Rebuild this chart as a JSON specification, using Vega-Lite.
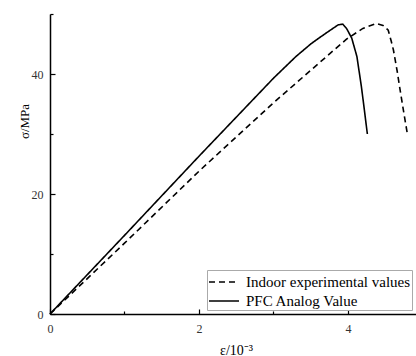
{
  "$schema": "https://vega.github.io/schema/vega-lite/v6.json",
  "width": 366,
  "height": 300,
  "autosize": {"type": "none"},
  "padding": {"left": 50, "top": 14, "right": 0, "bottom": 42},
  "background": "white",
  "config": {
    "view": {"stroke": null},
    "font": "Liberation Serif",
    "legend": {"labelFont": "Liberation Serif", "labelFontSize": 15},
    "axis": {
      "grid": false,
      "labelFlush": false,
      "domainColor": "black",
      "domainWidth": 1.5,
      "tickColor": "black",
      "tickWidth": 1.2,
      "labelFont": "Liberation Serif",
      "labelFontSize": 12,
      "labelColor": "#333333",
      "titleFont": "Liberation Serif",
      "titleFontWeight": "normal",
      "titleColor": "black"
    }
  },
  "data": {
    "values": [
      {"s": "Indoor experimental values", "e": 0, "sigma": 0},
      {"s": "Indoor experimental values", "e": 1.0, "sigma": 11.8},
      {"s": "Indoor experimental values", "e": 2.0, "sigma": 23.8},
      {"s": "Indoor experimental values", "e": 3.0, "sigma": 35.2},
      {"s": "Indoor experimental values", "e": 3.6, "sigma": 41.7},
      {"s": "Indoor experimental values", "e": 3.98, "sigma": 45.8},
      {"s": "Indoor experimental values", "e": 4.2, "sigma": 47.6},
      {"s": "Indoor experimental values", "e": 4.38, "sigma": 48.4},
      {"s": "Indoor experimental values", "e": 4.47, "sigma": 48.1},
      {"s": "Indoor experimental values", "e": 4.54, "sigma": 47.3},
      {"s": "Indoor experimental values", "e": 4.58, "sigma": 45.5},
      {"s": "Indoor experimental values", "e": 4.61, "sigma": 44.0},
      {"s": "Indoor experimental values", "e": 4.66, "sigma": 40.5},
      {"s": "Indoor experimental values", "e": 4.7, "sigma": 37.3},
      {"s": "Indoor experimental values", "e": 4.75, "sigma": 33.5},
      {"s": "Indoor experimental values", "e": 4.8, "sigma": 29.8},
      {"s": "PFC Analog Value", "e": 0, "sigma": 0},
      {"s": "PFC Analog Value", "e": 1.0, "sigma": 13.1},
      {"s": "PFC Analog Value", "e": 2.0, "sigma": 26.3},
      {"s": "PFC Analog Value", "e": 2.5, "sigma": 32.8},
      {"s": "PFC Analog Value", "e": 3.0, "sigma": 39.3},
      {"s": "PFC Analog Value", "e": 3.3, "sigma": 42.9},
      {"s": "PFC Analog Value", "e": 3.5, "sigma": 45.0},
      {"s": "PFC Analog Value", "e": 3.6, "sigma": 45.9},
      {"s": "PFC Analog Value", "e": 3.75, "sigma": 47.2},
      {"s": "PFC Analog Value", "e": 3.87, "sigma": 48.2},
      {"s": "PFC Analog Value", "e": 3.93, "sigma": 48.3},
      {"s": "PFC Analog Value", "e": 3.98, "sigma": 47.6},
      {"s": "PFC Analog Value", "e": 4.05, "sigma": 46.0},
      {"s": "PFC Analog Value", "e": 4.12, "sigma": 42.9},
      {"s": "PFC Analog Value", "e": 4.18, "sigma": 37.9},
      {"s": "PFC Analog Value", "e": 4.22, "sigma": 34.0},
      {"s": "PFC Analog Value", "e": 4.26, "sigma": 30.0}
    ]
  },
  "layer": [
    {
      "mark": {"type": "line", "color": "black", "strokeWidth": 1.6},
      "encoding": {
        "x": {
          "field": "e", "type": "quantitative",
          "scale": {"domain": [0, 4.913], "nice": false, "zero": false},
          "axis": {
            "values": [0, 2, 4], "format": "d", "tickSize": -5, "labelPadding": 14,
            "title": "ε/10⁻³", "titleFontSize": 14, "titleX": 186, "titleY": 40,
            "titleBaseline": "alphabetic", "titleAlign": "center"
          }
        },
        "y": {
          "field": "sigma", "type": "quantitative",
          "scale": {"domain": [0, 50], "nice": false},
          "axis": {
            "values": [0, 20, 40], "format": "d", "tickSize": -5, "labelPadding": 12,
            "title": "σ/MPa", "titleFontSize": 13, "titleX": -26, "titleY": 107,
            "titleAngle": 270, "titleAlign": "center", "titleBaseline": "middle"
          }
        },
        "strokeDash": {
          "field": "s", "type": "nominal",
          "scale": {
            "domain": ["Indoor experimental values", "PFC Analog Value"],
            "range": [[6, 4], [1, 0]]
          },
          "legend": {
            "title": null,
            "orient": "none",
            "legendX": 157,
            "legendY": 256,
            "direction": "vertical",
            "symbolType": "M-1.5,0H1.5",
            "symbolSize": 400,
            "symbolOffset": 5,
            "labelOffset": 11,
            "symbolStrokeColor": "black",
            "symbolStrokeWidth": 1.6,
            "labelFont": "Liberation Serif",
            "labelFontSize": 15,
            "labelColor": "black",
            "labelLimit": 400,
            "rowPadding": 0,
            "padding": 1,
            "strokeColor": "#aaaaaa",
            "fillColor": "white"
          }
        }
      }
    },
    {
      "mark": {"type": "line", "opacity": 0},
      "encoding": {
        "x": {
          "field": "e", "type": "quantitative",
          "axis": {
            "orient": "bottom", "values": [1, 3, 5], "labels": false, "domain": false,
            "tickSize": -3, "title": null
          }
        },
        "y": {
          "field": "sigma", "type": "quantitative",
          "axis": {
            "orient": "left", "values": [10, 30, 50], "labels": false, "domain": false,
            "tickSize": -3, "title": null
          }
        },
        "detail": {"field": "s"}
      }
    }
  ],
  "resolve": {"axis": {"x": "independent", "y": "independent"}}
}
